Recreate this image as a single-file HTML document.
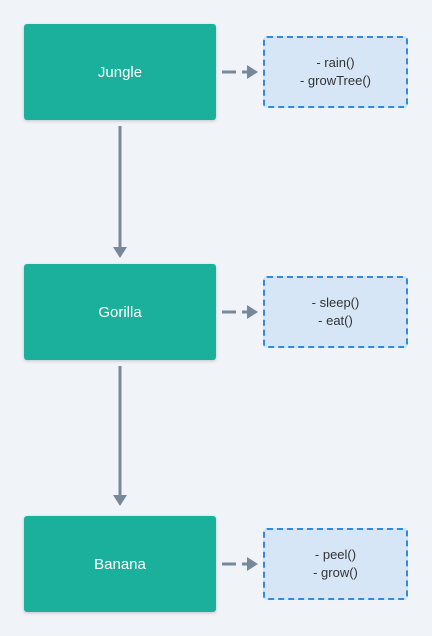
<!DOCTYPE html><html><head><style>
body{margin:0;width:432px;height:636px;background:#f0f4f8;font-family:"Liberation Sans",sans-serif;position:relative;overflow:hidden}
.n{position:absolute;left:24px;width:192px;height:96px;background:#1ab09c;color:#fff;font-size:15px;display:flex;align-items:center;justify-content:center;border-radius:3px;box-shadow:0 1px 3px rgba(0,0,0,.2)}
.s{position:absolute;left:263px;width:141px;height:68px;background:#d6e6f6;border:2px dashed #2f8ae0;border-radius:4px;color:#333;font-size:13px;line-height:18px;display:flex;align-items:center;justify-content:center;text-align:center}
svg{position:absolute;left:0;top:0}
</style></head><body>
<svg width="432" height="636">
<g stroke="#78889a" stroke-width="3" fill="none">
<line x1="120" y1="126" x2="120" y2="250"/><line x1="120" y1="366" x2="120" y2="498"/>
<line x1="222" y1="72" x2="236" y2="72"/>
<line x1="222" y1="312" x2="236" y2="312"/>
<line x1="222" y1="564" x2="236" y2="564"/>
<line x1="242" y1="72" x2="249" y2="72"/>
<line x1="242" y1="312" x2="249" y2="312"/>
<line x1="242" y1="564" x2="249" y2="564"/>
</g>
<g fill="#78889a">
<polygon points="113,247 127,247 120,258"/><polygon points="113,495 127,495 120,506"/>
<polygon points="247,65 258,72 247,79"/><polygon points="247,305 258,312 247,319"/><polygon points="247,557 258,564 247,571"/>
</g></svg>
<div class="n" style="top:24px">Jungle</div>
<div class="n" style="top:264px">Gorilla</div>
<div class="n" style="top:516px">Banana</div>
<div class="s" style="top:36px">- rain()<br>- growTree()</div>
<div class="s" style="top:276px">- sleep()<br>- eat()</div>
<div class="s" style="top:528px">- peel()<br>- grow()</div>
</body></html>
